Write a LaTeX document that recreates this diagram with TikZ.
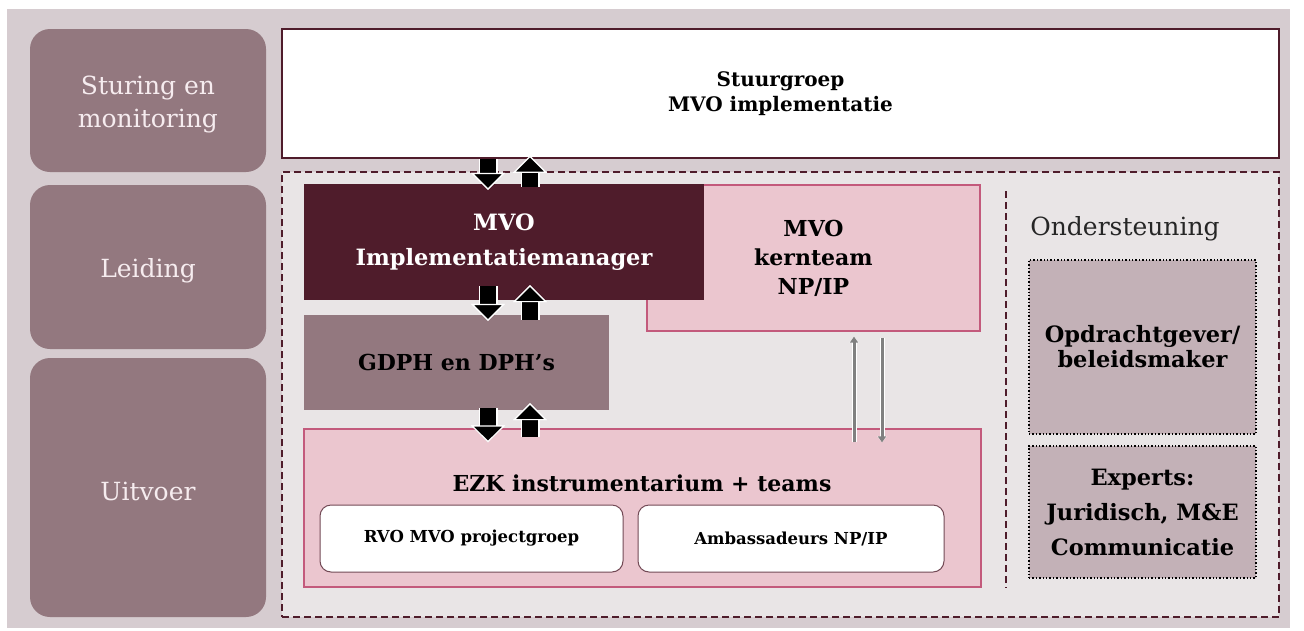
\documentclass[tikz,border=0pt]{standalone}
\usepackage{fontspec}
\setmainfont{DejaVu Serif}
\usetikzlibrary{arrows.meta,backgrounds}
\definecolor{bgmauve}{HTML}{D6CCD0}
\definecolor{lanemauve}{HTML}{93787F}
\definecolor{lanetext}{HTML}{F6ECEF}
\definecolor{innergray}{HTML}{E9E5E6}
\definecolor{darkwine}{HTML}{4F1C2B}
\definecolor{rosefill}{HTML}{EBC6CF}
\definecolor{roseline}{HTML}{C35A7C}
\definecolor{supportfill}{HTML}{C3B1B7}
\definecolor{arrowgray}{HTML}{808080}

\begin{document}
\begin{tikzpicture}[x=1pt,y=-1pt,
    lane/.style={fill=lanemauve,rounded corners=20pt,text=lanetext,align=center,
                 inner sep=0pt,font=\fontsize{25}{33}\selectfont},
    unit/.style={inner sep=0pt,align=center,font=\bfseries\fontsize{20}{25}\selectfont},
    rosebox/.style={unit,fill=rosefill,draw=roseline,line width=1.2pt},
    teambox/.style={unit,fill=white,draw=darkwine!80,line width=1pt,rounded corners=11pt,
                    font=\bfseries\fontsize{16.5}{18}\selectfont},
    supportbox/.style={unit,fill=supportfill,draw=black,dotted,line width=1.4pt},
    kaderline/.style={draw=darkwine,line width=1.4pt,dash pattern=on 7pt off 4pt},
    blockarrow/.style={line width=16pt,black,
                 -{Triangle[width=34pt,length=17pt,fill=black,color=white,line width=1.2pt]},
                 preaction={draw=white,line width=19pt,
                 -{Triangle[width=34pt,length=17pt,fill=black,color=white,line width=1.2pt]}}},
    thinarrow/.style={line width=3pt,arrowgray,-{Triangle[width=8pt,length=6pt]},
                 preaction={draw=white,line width=5pt,-{Triangle[width=9pt,length=6pt]}}}
    ]
    \useasboundingbox (0,0) rectangle (1304,630);

    % Background
    \fill[bgmauve] (7,9) rectangle (1290,628);

    % left column
    \node[lane,minimum width=236pt,minimum height=143pt] (sturing) at (148,100.5) {\\[-6pt]Sturing en\\monitoring};
    \node[lane,minimum width=236pt,minimum height=164pt] (leiding) at (148,267) {\\[-6pt]Leiding};
    \node[lane,minimum width=236pt,minimum height=259pt] (uitvoer) at (148,487.5) {\\[-6pt]Uitvoer};

    \node[unit,fill=white,draw=darkwine,line width=1.5pt,minimum width=997pt,minimum height=129pt]
        (stuurgroep) at (780.5,93.5) {Stuurgroep\\MVO implementatie};
    \node[kaderline,fill=innergray,minimum width=997pt,minimum height=445pt]
        (kader) at (780.5,394.5) {};

    % Leiding en uitvoer
    \node[rosebox,minimum width=333pt,minimum height=146pt,text width=200pt,font=\bfseries\fontsize{22}{29}\selectfont]
        (kernteam) at (813.5,258) {MVO\\kernteam\\NP/IP};
    \node[unit,fill=darkwine,text=white,minimum width=400pt,minimum height=116pt,font=\bfseries\fontsize{22.5}{35}\selectfont]
        (manager) at (504,242) {MVO\\Implementatiemanager};
    \node[unit,fill=lanemauve,minimum width=305pt,minimum height=95pt,font=\bfseries\fontsize{22}{26}\selectfont]
        (gdph) at (456.5,362.5) {GDPH en DPH’s};
    \node[rosebox,minimum width=677pt,minimum height=158pt] (ezk) at (642.5,508) {};
    \node[unit,font=\bfseries\fontsize{22}{26}\selectfont] (ezktitel) at (642,483) {EZK instrumentarium + teams};
    \node[teambox,minimum width=303pt,minimum height=67pt] (rvo) at (471.5,538.5) {RVO MVO projectgroep};
    \node[teambox,minimum width=306pt,minimum height=67pt] (ambas) at (791,538.5) {Ambassadeurs NP/IP};

    % Ondersteuning
    \coordinate (scheidingtop) at (1006,191);
    \coordinate (scheidingbot) at (1006,588);
    \draw[kaderline] (scheidingtop) -- (scheidingbot);
    \node[font=\fontsize{25}{28}\selectfont,text=black!85] (ondersteuning) at (1125,229) {Ondersteuning};
    \node[supportbox,minimum width=227pt,minimum height=174pt,font=\bfseries\fontsize{22.5}{25}\selectfont]
        (opdrachtgever) at (1142.5,347) {Opdrachtgever/\\beleidsmaker};
    \node[supportbox,minimum width=227pt,minimum height=132pt,font=\bfseries\fontsize{22.5}{35}\selectfont]
        (experts) at (1142.5,512) {Experts:\\Juridisch, M\&E\\Communicatie};

    % pijlen
    \coordinate (neer) at (488,0);
    \coordinate (op) at (530,0);
    \draw[blockarrow,shorten >=-6pt] (stuurgroep.south -| neer) -- (manager.north -| neer);
    \draw[blockarrow,shorten <=-3pt,shorten >=-3pt] (manager.north -| op) -- (stuurgroep.south -| op);
    \draw[blockarrow,shorten <=-14pt,shorten >=-6pt] (manager.south -| neer) -- (gdph.north -| neer);
    \draw[blockarrow,shorten <=-5pt,shorten >=-15pt] (gdph.north -| op) -- (manager.south -| op);
    \draw[blockarrow,shorten <=-2pt,shorten >=-14pt] (gdph.south -| neer) -- (ezk.north -| neer);
    \draw[blockarrow,shorten <=-9pt,shorten >=-7pt] (ezk.north -| op) -- (gdph.south -| op);

    \coordinate (opdun) at (854,0);
    \coordinate (neerdun) at (882,0);
    \draw[thinarrow,shorten <=-14pt,shorten >=5pt] (ezk.north -| opdun) -- (kernteam.south -| opdun);
    \draw[thinarrow,shorten <=6pt,shorten >=-14pt] (kernteam.south -| neerdun) -- (ezk.north -| neerdun);
\end{tikzpicture}
\end{document}
